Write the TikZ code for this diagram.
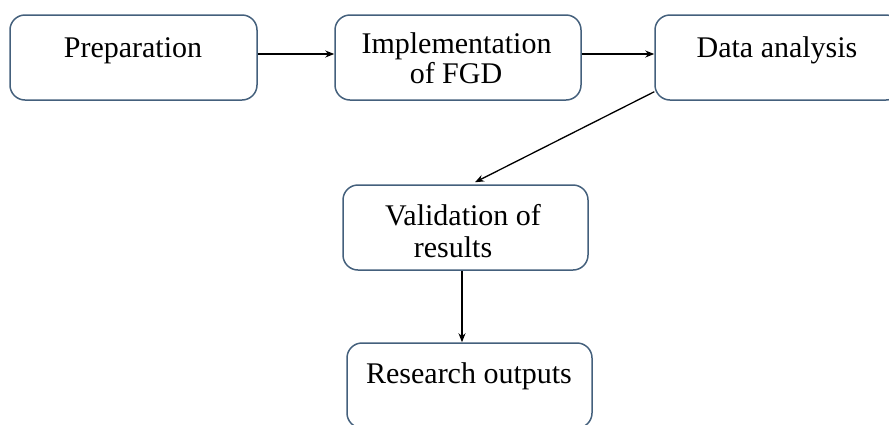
\documentclass[tikz,border=0pt]{standalone}
\usepackage{fontspec}
\setmainfont{Liberation Serif}
\usetikzlibrary{arrows.meta,calc}
\definecolor{boxline}{RGB}{68,96,124}
\tikzset{
  stepbox/.style={draw=boxline, line width=1.5pt, rounded corners=15pt,
    minimum width=#1, minimum height=85pt, inner sep=0pt},
  stepbox/.default=246pt,
  lbl/.style={anchor=base, inner sep=0pt, font=\fontsize{30}{36}\selectfont},
  arr/.style={draw=black, line width=1.3pt, -{Stealth[length=9pt,width=7pt]}}
}
\begin{document}
\begin{tikzpicture}[x=1pt,y=-1pt]
  \useasboundingbox (0,0) rectangle (889,424);
  \clip (0,0) rectangle (889,424);

  % process boxes
  \node[stepbox=247pt] (b1) at (133.5,57.5) {};
  \node[stepbox=246pt] (b2) at (458,57.5) {};
  \node[stepbox=246pt] (b3) at (778,57.5) {};
  \node[stepbox=245pt] (b4) at (465.5,227.5) {};
  \node[stepbox=245pt] (b5) at (469.5,385.5) {};

  % labels
  \node[lbl] (t1) at (133,57) {Preparation};
  \node[lbl] (t2a) at (456.5,53) {Implementation};
  \node[lbl] (t2b) at (456,83) {of FGD};
  \node[lbl] (t3) at (777,57) {Data analysis};
  \node[lbl] (t4a) at (463,225) {Validation of};
  \node[lbl] (t4b) at (453,257) {results};
  \node[lbl] (t5) at (469,383) {Research outputs};

  % connectors
  \coordinate (row) at (0,54);
  \draw[arr] (b1.east |- row) -- (b2.west |- row);
  \draw[arr] (b2.east |- row) -- (b3.west |- row);
  \draw[arr] ([yshift=9pt]b3.south west) -- ([xshift=9.5pt,yshift=2pt]b4.north);
  \draw[arr] ([xshift=-3.5pt]b4.south) -- ([xshift=-3.5pt]b4.south |- b5.north);
\end{tikzpicture}
\end{document}
